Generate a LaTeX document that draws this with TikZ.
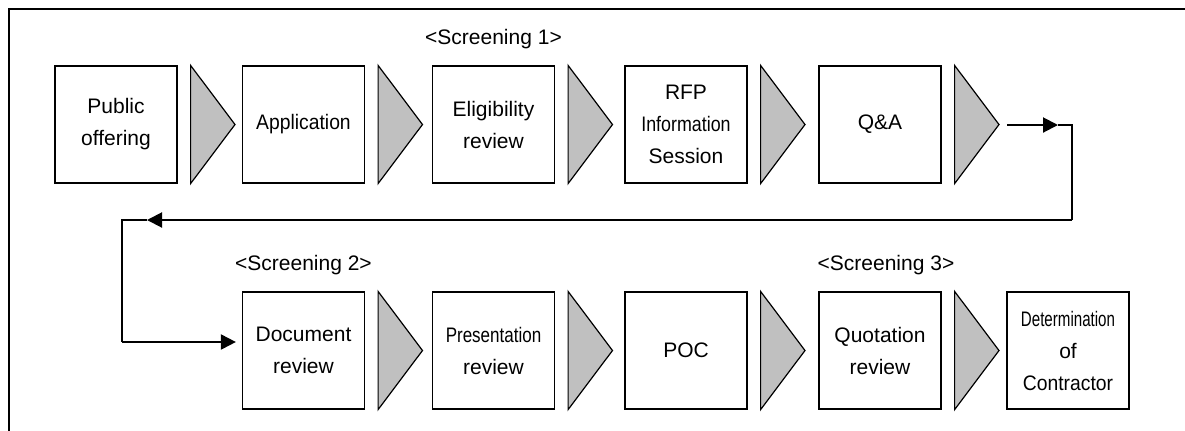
\documentclass[tikz,border=0pt]{standalone}
\usepackage{fontspec}
\setmainfont{Liberation Sans}
\usepackage{graphicx}
\usetikzlibrary{positioning,arrows.meta}
\definecolor{chevrongray}{RGB}{192,192,192}
\newcommand{\squeeze}[2]{\scalebox{#1}[1]{#2}}

\begin{document}
\begin{tikzpicture}[x=0.5pt,y=-0.5pt,
  stage/.style={draw, line width=0.6pt, minimum width=61pt, minimum height=58.5pt,
    inner sep=0pt, align=center, font=\fontsize{10.5}{16}\selectfont},
  chevron/.style={draw, line width=0.6pt, fill=chevrongray, line join=miter},
  link/.style={line width=1pt},
  tip/.style={-{Triangle[length=7.5pt,width=7.5pt]}},
  screen/.style={anchor=base, font=\fontsize{10.5}{12}\selectfont}]
  \useasboundingbox (0,0) rectangle (1185,430);
  % outer frame (runs off the page at right and bottom)
  \draw[line width=1pt] (9,9) rectangle (1200,445);

  % first row
  \node[stage] (offer) at (116,124.5) {Public\\offering};
  \node[stage] (apply) at (303.5,124.5) {\squeeze{0.92}{Application}};
  \node[stage] (elig)  at (493.5,124.5) {Eligibility\\review};
  \node[stage] (rfp)   at (686,124.5) {RFP\\\squeeze{0.85}{Information}\\Session};
  \node[stage] (qa)    at (880,124.5) {Q\&A};

  % second row
  \node[stage] (doc)   at (303.5,350.5) {Document\\review};
  \node[stage] (pres)  at (493.5,350.5) {\squeeze{0.81}{Presentation}\\review};
  \node[stage] (poc)   at (686,350.5) {POC};
  \node[stage] (quote) at (880,350.5) {Quotation\\review};
  \node[stage] (decide) at (1068,350.5) {\squeeze{0.72}{Determination}\\of\\\squeeze{0.92}{Contractor}};

  % screening labels
  \node[screen] (scr1) at ([yshift=10.5pt]elig.north) {<Screening 1>};
  \node[screen] (scr2) at ([yshift=10.5pt]doc.north) {<Screening 2>};
  \node[screen] (scr3) at ([xshift=3pt,yshift=10.5pt]quote.north) {<Screening 3>};

  % gray chevrons between the stages
  \foreach \s in {offer,apply,elig,rfp,qa,doc,pres,poc,quote}
    \draw[chevron] ([xshift=6.5pt]\s.north east) -- ([xshift=28.7pt]\s.east)
      -- ([xshift=6.5pt]\s.south east) -- cycle;

  % return line from the first row to the second
  \coordinate (qaout)  at (1007,125);
  \coordinate (qatip)  at (1058,125);
  \coordinate (turnA)  at (1072,125);
  \coordinate (turnB)  at (1072,220);
  \coordinate (backtip) at (147,220);
  \coordinate (turnC)  at (122,220);
  \coordinate (turnD)  at (122,342);
  \draw[link,tip] (qaout) -- (qatip);
  \draw[link] (qatip) -- (turnA) -- (turnB);
  \draw[link,tip] (turnB) -- (backtip);
  \draw[link] (backtip) -- (turnC) -- (turnD);
  \draw[link,tip,shorten >=3pt] (turnD) -- (turnD -| doc.west);
\end{tikzpicture}
\end{document}
